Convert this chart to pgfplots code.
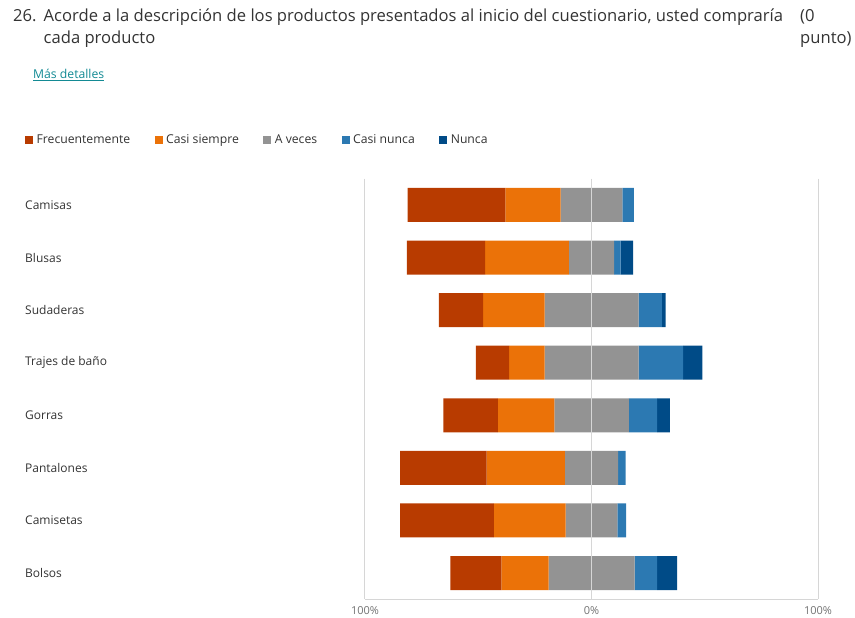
\documentclass[border=0pt]{standalone}
\usepackage{pgfplots}
\pgfplotsset{compat=1.18}
\usepackage{pgfplotstable}
\usepackage{fontspec}
\setmainfont{Open Sans}
\definecolor{cFrec}{HTML}{B83B00}
\definecolor{cCasiS}{HTML}{EB7208}
\definecolor{cAV}{HTML}{939393}
\definecolor{cCasiN}{HTML}{2C79B2}
\definecolor{cNunca}{HTML}{004B87}
\definecolor{txt}{HTML}{333333}
\definecolor{link}{HTML}{138A94}
\definecolor{gridc}{HTML}{D6D6D6}

% off = position of the left end of each bar on a 0..200 scale (100 = 0%)
\pgfplotstableread{
y off F CS AV CN N
0 18.8 43.2 24.4 27.2 5.1 0
1 18.5 34.5 37.0 20.0 2.9 5.5
2 32.6 19.6 27.1 41.5 10.3 1.6
3 49.0 14.6 15.7 41.5 19.6 8.5
4 34.6 24.1 24.9 32.9 12.5 5.6
5 15.5 38.2 34.6 23.4 3.4 0
6 15.5 41.4 31.7 22.8 3.9 0
7 37.7 22.5 20.9 37.9 10.0 8.8
}\datatable

\begin{document}
\begin{tikzpicture}[x=1pt,y=1pt]
\path[use as bounding box] (0,0) rectangle (855,618);
\tikzset{ttl/.style={anchor=base west, inner sep=0pt, text=txt, font=\fontsize{16.6}{19}\selectfont}}
\node[ttl] at (13,596.3) {26.};
\node[ttl] at (43.5,596.3) {Acorde a la descripción de los productos presentados al inicio del cuestionario, usted compraría};
\node[ttl] at (43.5,574) {cada producto};
\node[ttl] at (800,596.3) {(0};
\node[ttl] at (800,574) {punto)};
\node[anchor=base west, inner sep=0pt, text=link, font=\fontsize{12.2}{14}\selectfont] at (33,539) {\underline{Más detalles}};
\begin{axis}[
  at={(365pt,439.3pt)}, anchor=north west,
  scale only axis, width=453pt, height=420.6pt,
  xbar stacked, bar width=34pt,
  xmin=0, xmax=200, ymin=-0.5, ymax=7.5, y dir=reverse,
  ytick={0,...,7},
  yticklabels={Camisas,Blusas,Sudaderas,Trajes de baño,Gorras,Pantalones,Camisetas,Bolsos},
  yticklabel style={anchor=west, inner sep=0pt, xshift=-340pt, text=txt, font=\fontsize{12}{14}\selectfont},
  xtick={0,100,200},
  xticklabels={100\%,0\%,100\%},
  xticklabel style={text=black!55, font=\fontsize{11}{13}\selectfont, yshift=-4pt},
  major tick length=0pt,
  xmajorgrids, grid style={gridc, line width=1pt},
  axis x line*=bottom,
  axis y line*=left,
  x axis line style={-, draw=gridc, line width=0.8pt},
  y axis line style={draw=none},
  axis on top,
  clip=false,
  legend columns=-1,
  legend style={at={(-0.7506,1.092)}, anchor=west, draw=none, fill=none,
    font=\fontsize{12.2}{14}\selectfont, text=txt, inner sep=0pt,
    /tikz/every even column/.append style={column sep=21pt},
    nodes={inner xsep=3.5pt, inner ysep=2pt}},
  legend image code/.code={\fill[#1] (0pt,-4pt) rectangle (8pt,4pt);},
]
\addplot[draw=none, fill=none, forget plot] table[x=off, y=y] {\datatable};
\addplot[draw=none, fill=cFrec] table[x=F, y=y] {\datatable};
\addlegendentry{Frecuentemente}
\addplot[draw=none, fill=cCasiS] table[x=CS, y=y] {\datatable};
\addlegendentry{Casi siempre}
\addplot[draw=none, fill=cAV] table[x=AV, y=y] {\datatable};
\addlegendentry{A veces}
\addplot[draw=none, fill=cCasiN] table[x=CN, y=y] {\datatable};
\addlegendentry{Casi nunca}
\addplot[draw=none, fill=cNunca] table[x=N, y=y] {\datatable};
\addlegendentry{Nunca}
\end{axis}
\end{tikzpicture}
\end{document}
